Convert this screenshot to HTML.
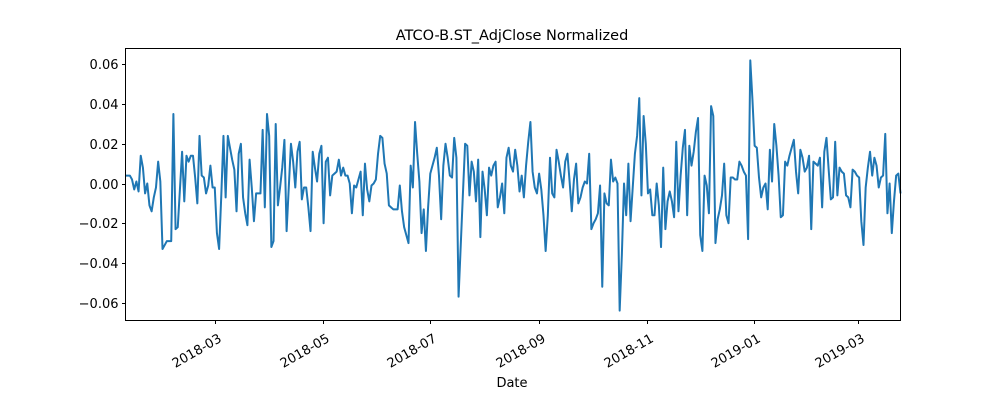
<!DOCTYPE html>
<html>
<head>
<meta charset="utf-8">
<style>
  html,body{margin:0;padding:0;background:#fff;}
  svg{display:block;font-family:"DejaVu Sans","Liberation Sans",sans-serif;}
</style>
</head>
<body>
<svg id="chart" width="1000" height="400" viewBox="0 0 1000 400">
  <rect x="0" y="0" width="1000" height="400" fill="#fff"/>
  <text x="512" y="40" text-anchor="middle" font-size="14.5" fill="#000">ATCO-B.ST_AdjClose Normalized</text>
  <g id="yaxis"></g>
  <g id="xaxis"></g>
  <g id="series"></g>
  <rect x="125.5" y="48.5" width="775" height="272" fill="none" stroke="#000" stroke-width="1"/>
  <text x="512" y="387" text-anchor="middle" font-size="13" fill="#000">Date</text>
</svg>
<script>
// Normalized daily change values (in thousandths)
const values = [
4,4,4,2,-3,1,-4,14,8,-5,0,-11,-14,-7,-2,11,1,-33,-31,-29,-29,-29,35,-23,-22,-3,16,-9,14,11,14,14,3,-10,24,4,3,-5,-1,9,-2,-2,-25,-33,-6,24,-7,24,18,12,7,-14,15,20,-7,-15,-21,12,-2,-19,-5,-5,-5,27,-12,35,24,-32,-29,30,-11,-2,8,22,-24,-2,20,11,-2,16,21,-8,-2,-2,-12,-24,16,8,1,15,
19,-20,11,13,-6,4,5,6,12,4,8,4,4,0,-15,-1,-2,2,6,-16,10,-3,-9,-1,0,2,15,24,23,10,5,-11,-12,-13,-13,-13,-1,-14,-22,-26,-30,9,-2,31,15,1,-25,-13,-34,-12,5,9,13,18,4,-18,9,20,13,4,3,23,13,-57,-31,-5,20,19,-6,11,6,-9,12,-27,6,-3,-16,8,4,9,11,-12,-7,0,-15,13,18,9,6,
17,9,-4,4,-7,9,21,31,6,-2,-5,5,-3,-16,-34,-16,13,-5,-7,17,11,4,-2,11,15,1,-14,2,10,-10,-7,-2,1,0,15,-23,-20,-18,-15,-1,-52,-5,-10,-11,12,1,3,0,-64,-36,0,-16,10,-19,-2,15,24,43,-6,34,20,-5,-3,-16,-16,0,-11,-32,8,-23,-9,-4,-9,-17,21,-14,4,18,27,-16,19,9,16,26,33,-26,-34,4,-1,-15,
39,34,-30,-18,-13,-6,10,-16,-20,3,3,2,2,11,9,6,4,-28,62,42,19,18,3,-7,-2,0,-13,17,1,30,19,4,-17,-16,11,9,14,18,22,6,-5,17,13,6,8,14,-23,11,10,9,13,-12,16,23,7,-8,-7,21,-6,8,6,5,-6,-7,-12,7,6,4,3,-19,-31,-2,8,16,4,13,9,-2,3,4,25,-15,0,-25,-9,4,5,-5
];
// Y axis tick values and labels
const yTicks = [-0.06,-0.04,-0.02,0.00,0.02,0.04,0.06];
const yTickLabels = ["\u22120.06","\u22120.04","\u22120.02","0.00","0.02","0.04","0.06"];
// X axis: date range and monthly tick labels
const startDate = "2018-01-09";
const endDate = "2019-03-25";
const xTickDates = ["2018-03-01","2018-05-01","2018-07-01","2018-09-01","2018-11-01","2019-01-01","2019-03-01"];
const xTickLabels = ["2018-03","2018-05","2018-07","2018-09","2018-11","2019-01","2019-03"];

const NS = "http://www.w3.org/2000/svg";
const plot = {left:125.5, right:900.5, top:48.5, bottom:320.5};
const yMin = -0.0690, yMax = 0.0680;
function yScale(v){ return plot.bottom - (v - yMin) / (yMax - yMin) * (plot.bottom - plot.top); }
const t0 = Date.parse(startDate), t1 = Date.parse(endDate);
function xDate(d){ return plot.left + (Date.parse(d) - t0) / (t1 - t0) * (plot.right - plot.left); }
function xIndex(i){ return plot.left + i / (values.length - 1) * (plot.right - plot.left); }

const yAxis = document.getElementById('yaxis');
yTicks.forEach((t, i) => {
  const y = Math.round(yScale(t)) + 0.5;
  const tick = document.createElementNS(NS, 'line');
  tick.setAttribute('x1', plot.left - 3.5); tick.setAttribute('x2', plot.left);
  tick.setAttribute('y1', y); tick.setAttribute('y2', y);
  tick.setAttribute('stroke', '#000');
  
  
  yAxis.appendChild(tick);
  const lab = document.createElementNS(NS, 'text');
  lab.setAttribute('x', plot.left - 7); lab.setAttribute('y', y + 4.5);
  lab.setAttribute('text-anchor', 'end'); lab.setAttribute('font-size', '13');
  lab.textContent = yTickLabels[i];
  
  
  yAxis.appendChild(lab);
});

const xAxis = document.getElementById('xaxis');
xTickDates.forEach((d, i) => {
  const x = Math.round(xDate(d)) + 0.5;
  const tick = document.createElementNS(NS, 'line');
  tick.setAttribute('x1', x); tick.setAttribute('x2', x);
  tick.setAttribute('y1', plot.bottom); tick.setAttribute('y2', plot.bottom + 3.5);
  tick.setAttribute('stroke', '#000');
  
  
  xAxis.appendChild(tick);
  const lab = document.createElementNS(NS, 'text');
  lab.setAttribute('transform', 'translate(' + (x + 2) + ',' + (plot.bottom + 12) + ') rotate(-30)');
  lab.setAttribute('text-anchor', 'end'); lab.setAttribute('font-size', '13');
  lab.setAttribute('dy', '0.75em');
  lab.textContent = xTickLabels[i];
  
  
  xAxis.appendChild(lab);
});

const series = document.getElementById('series');
const pts = values.map((v, i) => xIndex(i).toFixed(2) + ',' + yScale(v / 1000).toFixed(2)).join(' ');
const line = document.createElementNS(NS, 'polyline');
line.setAttribute('points', pts);
line.setAttribute('fill', 'none');
line.setAttribute('stroke', '#1f77b4');
line.setAttribute('stroke-width', '2');
line.setAttribute('stroke-linejoin', 'round');


series.appendChild(line);
</script>
</body>
</html>
